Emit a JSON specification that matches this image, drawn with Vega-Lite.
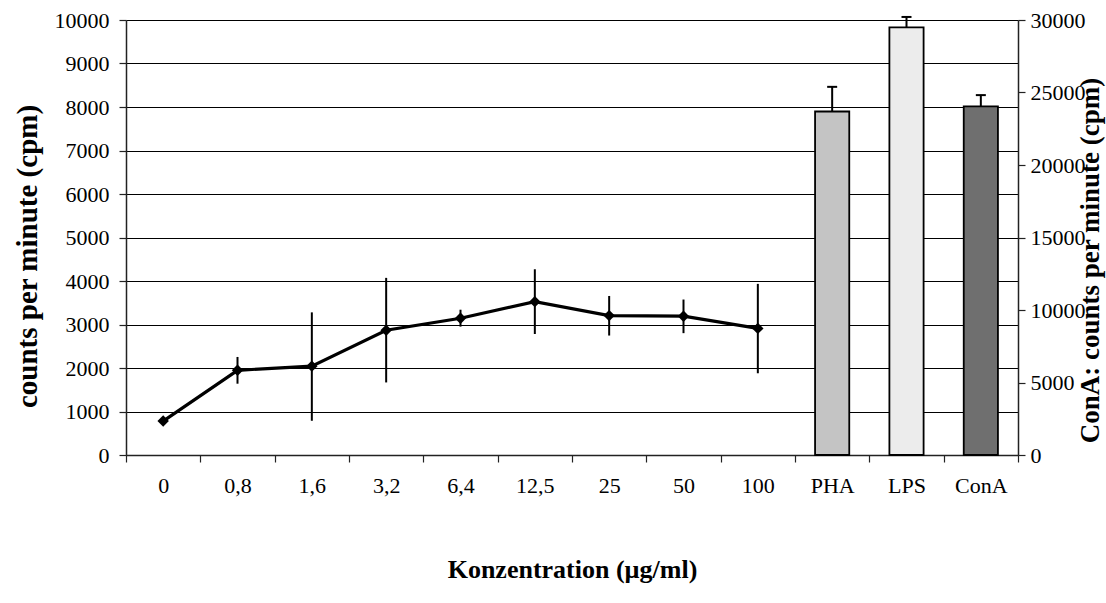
{
  "$schema": "https://vega.github.io/schema/vega-lite/v6.json",
  "width": 892,
  "height": 435,
  "autosize": {"type": "none"},
  "padding": {"left": 126, "top": 20, "right": 88, "bottom": 148},
  "background": "white",
  "config": {
    "font": "Liberation Serif",
    "view": {"stroke": null},
    "axis": {
      "labelFont": "Liberation Serif",
      "labelFontSize": 22,
      "labelColor": "#000",
      "titleFont": "Liberation Serif",
      "titleFontSize": 27,
      "titleFontWeight": "bold",
      "titleColor": "#000",
      "domainColor": "#222",
      "domainWidth": 1.5,
      "tickColor": "#222",
      "tickWidth": 1.2,
      "tickSize": 7,
      "labelPadding": 10
    }
  },
  "datasets": {
    "conc": [
      {"k": "0", "cpm": 780, "lo": 780, "hi": 780},
      {"k": "0,8", "cpm": 1947, "lo": 1639, "hi": 2254},
      {"k": "1,6", "cpm": 2043, "lo": 787, "hi": 3279},
      {"k": "3,2", "cpm": 2869, "lo": 1668, "hi": 4072},
      {"k": "6,4", "cpm": 3143, "lo": 2951, "hi": 3340},
      {"k": "12,5", "cpm": 3525, "lo": 2781, "hi": 4270},
      {"k": "25", "cpm": 3205, "lo": 2746, "hi": 3656},
      {"k": "50", "cpm": 3191, "lo": 2801, "hi": 3574},
      {"k": "100", "cpm": 2910, "lo": 1879, "hi": 3934}
    ],
    "stim": [
      {"k": "PHA", "cpm": 23690, "hi": 25390},
      {"k": "LPS", "cpm": 29490, "hi": 30210},
      {"k": "ConA", "cpm": 24040, "hi": 24820}
    ]
  },
  "layer": [
    {
      "data": {"name": "conc"},
      "encoding": {
        "x": {
          "field": "k",
          "type": "nominal",
          "sort": null,
          "scale": {"domain": ["0", "0,8", "1,6", "3,2", "6,4", "12,5", "25", "50", "100", "PHA", "LPS", "ConA"], "paddingInner": 0, "paddingOuter": 0},
          "axis": {"title": "Konzentration (µg/ml)", "titleFontSize": 26, "labelAngle": 0, "tickBand": "extent", "titlePadding": 60, "labelPadding": 13}
        }
      },
      "layer": [
        {
          "mark": {"type": "rule", "color": "#000", "strokeWidth": 2},
          "encoding": {
            "y": {"field": "lo", "type": "quantitative", "scale": {"domain": [0, 10000], "nice": false}, "axis": {"title": "counts per minute (cpm)", "titleFontSize": 29, "titleY": 236, "format": "d", "values": [0,1000,2000,3000,4000,5000,6000,7000,8000,9000,10000], "grid": true, "gridColor": "#000", "gridWidth": 1, "titlePadding": 12}},
            "y2": {"field": "hi"}
          }
        },
        {
          "mark": {"type": "line", "color": "#000", "strokeWidth": 3.2},
          "encoding": {
            "y": {"field": "cpm", "type": "quantitative", "scale": {"domain": [0, 10000], "nice": false}, "axis": {"title": "counts per minute (cpm)", "titleFontSize": 29, "titleY": 236, "format": "d", "values": [0,1000,2000,3000,4000,5000,6000,7000,8000,9000,10000], "grid": true, "gridColor": "#000", "gridWidth": 1, "titlePadding": 12}}
          }
        },
        {
          "mark": {"type": "point", "shape": "diamond", "filled": true, "color": "#000", "size": 130, "opacity": 1},
          "encoding": {
            "y": {"field": "cpm", "type": "quantitative", "scale": {"domain": [0, 10000], "nice": false}, "axis": {"title": "counts per minute (cpm)", "titleFontSize": 29, "titleY": 236, "format": "d", "values": [0,1000,2000,3000,4000,5000,6000,7000,8000,9000,10000], "grid": true, "gridColor": "#000", "gridWidth": 1, "titlePadding": 12}}
          }
        }
      ]
    },
    {
      "data": {"name": "stim"},
      "encoding": {
        "x": {
          "field": "k",
          "type": "nominal",
          "sort": null,
          "scale": {"domain": ["0", "0,8", "1,6", "3,2", "6,4", "12,5", "25", "50", "100", "PHA", "LPS", "ConA"], "paddingInner": 0, "paddingOuter": 0},
          "axis": {"title": "Konzentration (µg/ml)", "titleFontSize": 26, "labelAngle": 0, "tickBand": "extent", "titlePadding": 60, "labelPadding": 13}
        }
      },
      "layer": [
        {
          "mark": {"type": "bar", "width": {"band": 0.46}, "stroke": "#000", "strokeWidth": 1.8},
          "encoding": {
            "y": {"field": "cpm", "type": "quantitative", "scale": {"domain": [0, 30000], "nice": false}, "axis": {"orient": "right", "title": "ConA: counts per minute (cpm)", "format": "d", "titleFontSize": 27, "titleY": 240, "titleAngle": 270, "values": [0,5000,10000,15000,20000,25000,30000], "grid": false, "titlePadding": 19, "labelPadding": 5}},
            "color": {"field": "k", "type": "nominal", "scale": {"domain": ["PHA", "LPS", "ConA"], "range": ["#c4c4c4", "#ececec", "#6f6f6f"]}, "legend": null}
          }
        },
        {
          "mark": {"type": "rule", "color": "#000", "strokeWidth": 2},
          "encoding": {
            "y": {"field": "cpm", "type": "quantitative", "scale": {"domain": [0, 30000], "nice": false}, "axis": {"orient": "right", "title": "ConA: counts per minute (cpm)", "format": "d", "titleFontSize": 27, "titleY": 240, "titleAngle": 270, "values": [0,5000,10000,15000,20000,25000,30000], "grid": false, "titlePadding": 19, "labelPadding": 5}},
            "y2": {"field": "hi"}
          }
        },
        {
          "mark": {"type": "tick", "color": "#000", "orient": "horizontal", "size": 10, "thickness": 2, "opacity": 1},
          "encoding": {
            "y": {"field": "hi", "type": "quantitative", "scale": {"domain": [0, 30000], "nice": false}, "axis": {"orient": "right", "title": "ConA: counts per minute (cpm)", "format": "d", "titleFontSize": 27, "titleY": 240, "titleAngle": 270, "values": [0,5000,10000,15000,20000,25000,30000], "grid": false, "titlePadding": 19, "labelPadding": 5}}
          }
        }
      ]
    }
  ],
  "resolve": {"scale": {"y": "independent"}}
}
